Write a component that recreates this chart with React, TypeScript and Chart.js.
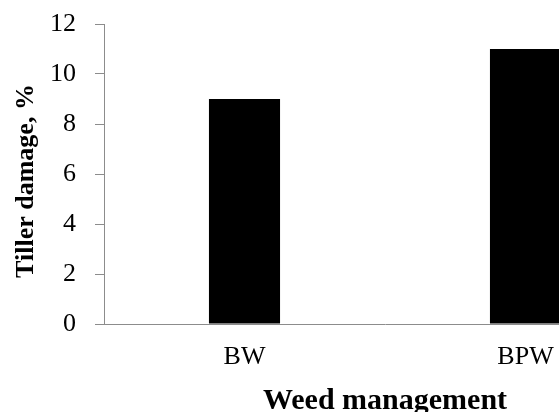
import React, { useEffect, useRef } from "react";
import { Chart, registerables } from "chart.js";

Chart.register(...registerables);

const categories: string[] = ["BW", "BPW"];
const tillerDamage: number[] = [9, 11];
const yMin = 0;
const yMax = 12;
const yStep = 2;
const yTitle = "Tiller damage, %";
const xTitle = "Weed management";

const FONT = "'Liberation Serif', 'Times New Roman', serif";
const AXIS_GRAY = "#8c8c8c";

const yTitlePlugin = {
  id: "yTitlePlugin",
  afterDraw(chart: any) {
    const ctx = chart.ctx;
    const area = chart.chartArea;
    ctx.save();
    ctx.translate(26, (area.top + area.bottom) / 2 + 7);
    ctx.rotate(-Math.PI / 2);
    ctx.font = `bold 26px ${FONT}`;
    ctx.fillStyle = "#000";
    ctx.textAlign = "center";
    ctx.textBaseline = "middle";
    ctx.fillText(yTitle, 0, 0);
    ctx.restore();
  },
};

export default function App() {
  const ref = useRef<HTMLCanvasElement | null>(null);

  useEffect(() => {
    if (!ref.current) return;
    const chart = new Chart(ref.current, {
      type: "bar",
      data: {
        labels: categories,
        datasets: [
          {
            data: tillerDamage,
            backgroundColor: "#000000",
            borderWidth: 0,
            categoryPercentage: 1,
            barPercentage: 0.253,
          },
        ],
      },
      options: {
        responsive: false,
        animation: false,
        devicePixelRatio: 1,
        layout: { padding: { top: 24, bottom: 11, left: 0, right: 14 } },
        plugins: {
          legend: { display: false },
          tooltip: { enabled: false },
        },
        scales: {
          x: {
            grid: { display: false, drawTicks: false },
            border: { display: true, color: AXIS_GRAY, width: 1 },
            ticks: {
              color: "#000",
              font: { family: FONT, size: 26 },
              padding: 18,
            },
            title: {
              display: true,
              text: xTitle,
              color: "#000",
              font: { family: FONT, size: 30, weight: "bold" },
              padding: { top: 0, bottom: 0 },
            },
            afterFit: (scale: any) => {
              scale.height = 95;
              scale.paddingLeft = 0;
              scale.paddingRight = 0;
            },
          },
          y: {
            min: yMin,
            max: yMax,
            grid: {
              drawOnChartArea: false,
              drawTicks: true,
              tickLength: 9,
              color: AXIS_GRAY,
            },
            border: { display: true, color: AXIS_GRAY, width: 1 },
            ticks: {
              stepSize: yStep,
              color: "#000",
              font: { family: FONT, size: 26 },
              padding: 19,
            },
            title: { display: false },
            afterFit: (scale: any) => {
              scale.width = 104;
              scale.paddingTop = 0;
              scale.paddingBottom = 0;
            },
          },
        },
      },
      plugins: [yTitlePlugin],
    });
    return () => chart.destroy();
  }, []);

  return (
    <div
      style={{
        position: "fixed",
        left: 0,
        top: 0,
        width: 559,
        height: 412,
        overflow: "hidden",
        background: "#fff",
      }}
    >
      <canvas
        ref={ref}
        width={680}
        height={430}
        style={{ width: 680, height: 430, display: "block" }}
      />
    </div>
  );
}
